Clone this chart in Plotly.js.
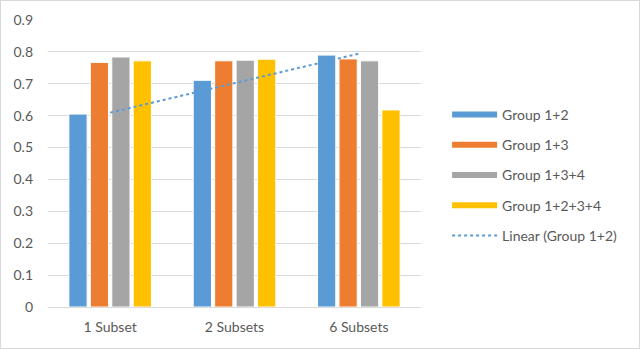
<html lang="en">
  <head>
    <meta charset="UTF-8" />
    <script src="https://cdn.jsdelivr.net/npm/plotly.js-dist-min/plotly.min.js"></script>
    <style>
      body { margin: 0; background: #fff; }
      #chart { width: 640px; height: 349px; box-sizing: border-box; border: 1px solid #d9d9d9; }
    </style>
  </head>
  <body>
    <div id="chart"></div>
    <script>
      // values
      const categories = ["1 Subset", "2 Subsets", "6 Subsets"];
      const group12 = [0.605, 0.711, 0.790];
      const group13 = [0.767, 0.772, 0.778];
      const group134 = [0.784, 0.774, 0.772];
      const group1234 = [0.772, 0.777, 0.618];
      const seriesNames = ["Group 1+2", "Group 1+3", "Group 1+3+4", "Group 1+2+3+4"];
      const colors = ["#5B9BD5", "#ED7D31", "#A5A5A5", "#FFC000"];

      // least squares trend of Group 1+2 over category index
      const idx = categories.map((_, i) => i + 1);
      const n = idx.length;
      const mx = idx.reduce((a, b) => a + b, 0) / n;
      const my = group12.reduce((a, b) => a + b, 0) / n;
      let sxy = 0, sxx = 0;
      for (let i = 0; i < n; i++) {
        sxy += (idx[i] - mx) * (group12[i] - my);
        sxx += (idx[i] - mx) ** 2;
      }
      const slope = sxy / sxx;
      const trend = idx.map((x) => my + slope * (x - mx));

      const allSeries = [group12, group13, group134, group1234];
      const traces = [];
      allSeries.forEach((vals, i) => {
        traces.push({
          type: "bar",
          x: categories,
          y: vals,
          name: seriesNames[i],
          marker: { color: colors[i], line: { color: "#ffffff", width: 1 } },
          showlegend: false,
        });
      });
      // legend entries drawn as wide swatches
      allSeries.forEach((vals, i) => {
        traces.push({
          type: "scatter",
          mode: "lines",
          x: [null],
          y: [null],
          name: seriesNames[i],
          legendgroup: "g" + i,
          line: { color: colors[i], width: 6 },
        });
      });
      traces.push({
        type: "scatter",
        mode: "lines",
        x: categories,
        y: trend,
        name: "Linear (Group 1+2)",
        legendgroup: "g4",
        line: { color: "#5B9BD5", width: 2, dash: "dot" },
      });

      const font = { family: "Lato, Carlito, sans-serif", size: 14, color: "#595959" };

      Plotly.newPlot(
        "chart",
        traces,
        {
          width: 638,
          height: 347,
          margin: { l: 47, r: 218, t: 19, b: 41 },
          font: font,
          paper_bgcolor: "#ffffff",
          plot_bgcolor: "#ffffff",
          barmode: "group",
          bargap: 0.31,
          bargroupgap: 0.15,
          xaxis: {
            showgrid: false,
            showline: true,
            linecolor: "#d9d9d9",
            linewidth: 1,
            ticks: "",
            ticklabelstandoff: 7,
            fixedrange: true,
          },
          yaxis: {
            range: [0, 0.9],
            dtick: 0.1,
            tick0: 0,
            gridcolor: "#d9d9d9",
            gridwidth: 1,
            zeroline: false,
            showline: false,
            ticks: "",
            ticklabelstandoff: 14,
            fixedrange: true,
          },
          legend: {
            x: 1.07,
            xanchor: "left",
            y: 0.46,
            yanchor: "middle",
            traceorder: "grouped",
            tracegroupgap: 9,
            itemwidth: 45,
            font: font,
            bgcolor: "rgba(0,0,0,0)",
          },
        },
        { displayModeBar: false, staticPlot: true }
      );
    </script>
  </body>
</html>
